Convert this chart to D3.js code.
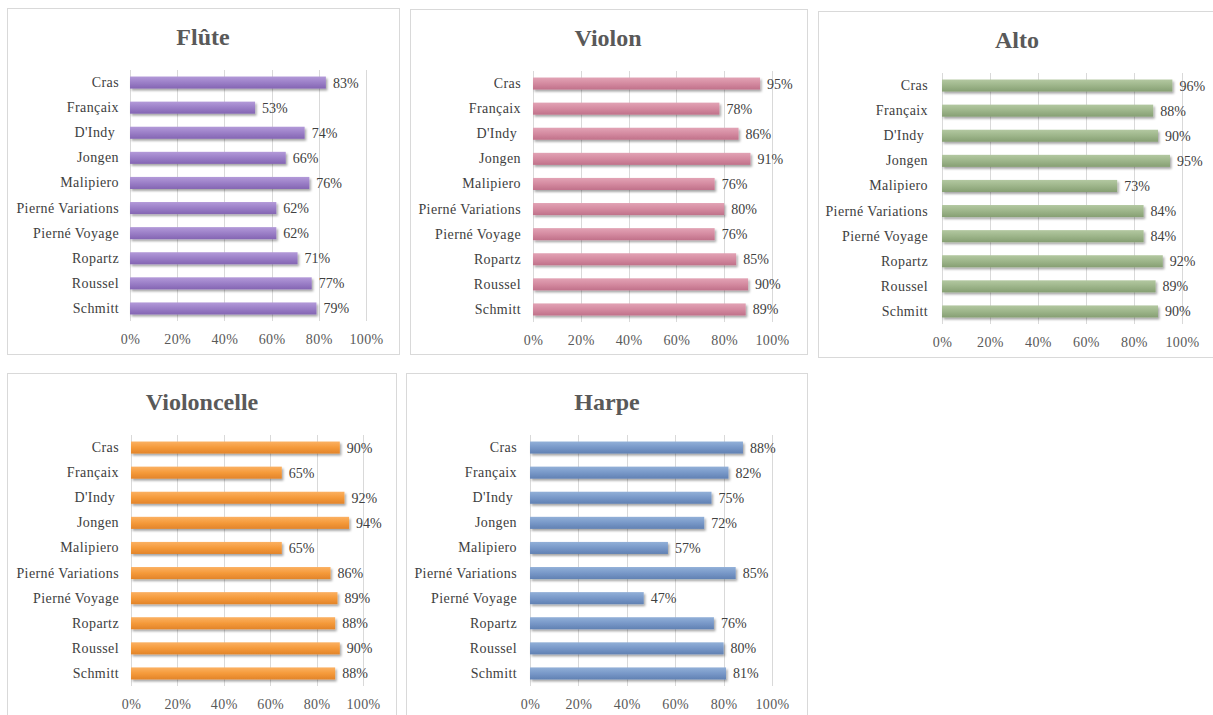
<!DOCTYPE html>
<html><head><meta charset="utf-8">
<script src="https://cdn.jsdelivr.net/npm/d3@7"></script>
<style>
html,body{margin:0;padding:0;background:#fff;}
svg{display:block;}
text{font-family:"Liberation Serif","Times New Roman",serif;}
</style></head>
<body>
<svg id="chart" width="1213" height="715"></svg>
<script>
const categories = ["Cras","Françaix","D'Indy\u00a0","Jongen","Malipiero","Pierné Variations","Pierné Voyage","Ropartz","Roussel","Schmitt"];
const titles = ["Flûte","Violon","Alto","Violoncelle","Harpe"];
const fluteValues = [0.83,0.53,0.74,0.66,0.76,0.62,0.62,0.71,0.77,0.79];
const violonValues = [0.95,0.78,0.86,0.91,0.76,0.80,0.76,0.85,0.90,0.89];
const altoValues = [0.96,0.88,0.90,0.95,0.73,0.84,0.84,0.92,0.89,0.90];
const violoncelleValues = [0.90,0.65,0.92,0.94,0.65,0.86,0.89,0.88,0.90,0.88];
const harpeValues = [0.88,0.82,0.75,0.72,0.57,0.85,0.47,0.76,0.80,0.81];
const tickValues = [0,0.2,0.4,0.6,0.8,1.0];
const seriesValues = [fluteValues, violonValues, altoValues, violoncelleValues, harpeValues];

// layout (positions/styles)
const colors = [
  {top:"#b39ad9", mid:"#9b7fc7", bot:"#8465b3"},
  {top:"#e2a3b5", mid:"#d48aa0", bot:"#c0718a"},
  {top:"#b3c8a1", mid:"#9db58a", bot:"#869f73"},
  {top:"#fbb163", mid:"#f59a3a", bot:"#e2842a"},
  {top:"#92b0d8", mid:"#7898c8", bot:"#6181b3"}
];
const frames = [
  {fx:7,  fy:8,   fw:392, fh:346, x0:130, x1:366, lr:119, tcx:203},
  {fx:410,fy:9,   fw:397, fh:345, x0:533, x1:772, lr:521, tcx:608},
  {fx:818,fy:11,  fw:400, fh:346, x0:942, x1:1182, lr:928, tcx:1017},
  {fx:7,  fy:373, fw:389, fh:350, x0:131, x1:363, lr:119, tcx:202},
  {fx:406,fy:373, fw:401, fh:350, x0:530, x1:772, lr:517, tcx:607}
];

const svg = d3.select("#chart");
const defs = svg.append("defs");
const f = defs.append("filter").attr("id","shadow").attr("x","-5%").attr("y","-30%").attr("width","115%").attr("height","180%");
f.append("feDropShadow").attr("dx",1.5).attr("dy",2).attr("stdDeviation",1.3).attr("flood-color","#000").attr("flood-opacity",0.35);

colors.forEach((c,i)=>{
  const g = defs.append("linearGradient").attr("id","grad"+i).attr("x1",0).attr("y1",0).attr("x2",0).attr("y2",1);
  g.append("stop").attr("offset","0%").attr("stop-color",c.top);
  g.append("stop").attr("offset","50%").attr("stop-color",c.mid);
  g.append("stop").attr("offset","100%").attr("stop-color",c.bot);
});

frames.forEach((fr,i)=>{
  const g = svg.append("g");
  g.append("rect").attr("x",fr.fx+0.5).attr("y",fr.fy+0.5).attr("width",fr.fw).attr("height",fr.fh)
    .attr("fill","#fff").attr("stroke","#d9d9d9").attr("stroke-width",1);
  g.append("text").attr("x",fr.tcx).attr("y",fr.fy+37).attr("text-anchor","middle")
    .attr("font-size",24).attr("font-weight","bold").attr("fill","#595959").text(titles[i]);

  const top = fr.fy+62, bottom = fr.fy+313;
  const x = d3.scaleLinear().domain([0,1]).range([fr.x0, fr.x1]);
  const y = d3.scaleBand().domain(categories).range([top,bottom]).paddingInner(0.52).paddingOuter(0.26);

  // gridlines
  g.selectAll("line.grid").data(tickValues).enter().append("line")
    .attr("x1",d=>Math.round(x(d))+0.5).attr("x2",d=>Math.round(x(d))+0.5)
    .attr("y1",top).attr("y2",bottom).attr("stroke","#d9d9d9").attr("stroke-width",1);

  // x axis labels
  const xa = g.append("g").attr("transform",`translate(0,${bottom})`)
    .call(d3.axisBottom(x).tickValues(tickValues).tickFormat(d3.format(".0%")).tickSize(0).tickPadding(13));
  xa.select(".domain").remove();
  xa.selectAll("text").attr("font-size",14).attr("fill","#595959").style("letter-spacing","0.4px");

  // y axis labels
  const ya = g.append("g").attr("transform",`translate(${fr.lr},0)`)
    .call(d3.axisLeft(y).tickSize(0).tickPadding(0));
  ya.select(".domain").remove();
  ya.selectAll("text").attr("font-size",14).attr("fill","#404040")
    .style("letter-spacing","0.4px").style("white-space","pre");

  const vals = seriesValues[i];
  g.selectAll("rect.bar").data(categories).enter().append("rect")
    .attr("x",x(0)).attr("y",d=>y(d)).attr("width",(d,k)=>x(vals[k])-x(0)).attr("height",y.bandwidth())
    .attr("fill","url(#grad"+i+")").attr("filter","url(#shadow)");

  g.selectAll("text.val").data(categories).enter().append("text")
    .attr("x",(d,k)=>x(vals[k])+7).attr("y",d=>y(d)+y.bandwidth()/2).attr("dy","0.36em")
    .attr("font-size",14).attr("fill","#404040").text((d,k)=>d3.format(".0%")(vals[k]));
});
</script>
</body></html>
